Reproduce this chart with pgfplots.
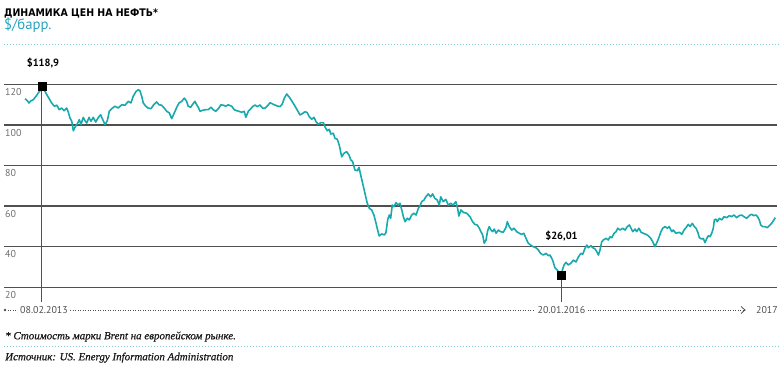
\documentclass[border=0pt]{standalone}
\usepackage{pgfplots}
\usepackage{pgfplotstable}
\pgfplotsset{compat=1.18}
\usepackage{fontspec}
\setmainfont{PT Sans}
\newfontfamily\fnfont{Liberation Serif}[ItalicFeatures={FakeBold=0.5}]
\newfontfamily\titlefont{DejaVu Sans Condensed}
\definecolor{oil}{HTML}{19A9AD}
\definecolor{unitc}{HTML}{2AA3C2}
\definecolor{gridc}{HTML}{505050}
\definecolor{tickc}{HTML}{6E6E6E}
\definecolor{dotc}{HTML}{7CC8D6}
\pgfplotstableread{
year price
2013.010 112.9
2013.023 111.9
2013.032 110.8
2013.044 111.9
2013.057 112.4
2013.072 114.1
2013.085 115.7
2013.099 117.3
2013.106 118.9
2013.123 116.5
2013.142 113.6
2013.161 110.8
2013.176 109.2
2013.190 109.7
2013.204 107.5
2013.218 108.3
2013.231 107.0
2013.246 108.3
2013.255 106.4
2013.265 103.4
2013.275 101.8
2013.284 97.1
2013.293 98.8
2013.306 100.4
2013.318 102.6
2013.327 100.1
2013.340 103.7
2013.350 102.1
2013.360 100.9
2013.373 103.7
2013.384 101.8
2013.397 103.7
2013.411 101.4
2013.426 103.7
2013.439 105.0
2013.451 102.6
2013.464 100.1
2013.477 102.1
2013.488 106.7
2013.502 108.0
2013.520 109.2
2013.539 108.3
2013.558 109.9
2013.577 109.7
2013.596 111.6
2013.611 110.8
2013.624 114.1
2013.640 116.5
2013.653 117.3
2013.662 116.8
2013.672 114.1
2013.681 110.8
2013.695 109.2
2013.709 108.3
2013.725 108.0
2013.738 109.7
2013.757 111.3
2013.770 109.9
2013.785 109.7
2013.800 108.3
2013.814 106.7
2013.829 105.9
2013.842 103.1
2013.857 105.9
2013.871 108.7
2013.884 110.8
2013.899 111.6
2013.914 113.2
2013.927 111.6
2013.936 109.2
2013.950 108.7
2013.959 109.9
2013.974 111.6
2013.984 109.9
2013.993 108.7
2014.003 106.7
2014.018 107.2
2014.035 107.5
2014.050 107.5
2014.065 108.7
2014.078 107.5
2014.092 106.7
2014.107 108.0
2014.122 109.9
2014.135 109.7
2014.149 109.2
2014.163 109.9
2014.183 109.2
2014.197 107.5
2014.211 107.0
2014.224 106.7
2014.239 106.2
2014.254 106.7
2014.263 103.7
2014.277 106.7
2014.291 108.0
2014.302 109.0
2014.315 109.8
2014.328 109.0
2014.343 109.8
2014.359 108.2
2014.372 108.2
2014.385 109.3
2014.400 110.9
2014.415 110.3
2014.428 109.8
2014.442 109.3
2014.457 109.0
2014.470 110.3
2014.481 113.1
2014.495 115.2
2014.510 113.6
2014.523 111.9
2014.538 109.8
2014.555 107.3
2014.570 104.9
2014.586 105.7
2014.599 106.5
2014.612 106.0
2014.623 104.0
2014.637 102.8
2014.650 103.7
2014.661 101.6
2014.674 100.3
2014.688 101.1
2014.703 101.1
2014.712 99.1
2014.725 97.1
2014.737 97.8
2014.745 95.5
2014.759 95.9
2014.769 93.4
2014.782 92.9
2014.793 90.1
2014.807 84.3
2014.820 86.0
2014.835 86.8
2014.848 85.2
2014.859 82.7
2014.869 81.9
2014.882 77.8
2014.896 77.4
2014.905 79.1
2014.915 75.3
2014.926 71.2
2014.939 66.3
2014.952 61.4
2014.964 58.9
2014.977 58.1
2014.990 55.6
2015.002 51.5
2015.011 48.2
2015.020 45.3
2015.034 46.3
2015.049 45.8
2015.058 46.9
2015.068 53.2
2015.077 55.6
2015.085 54.0
2015.094 60.5
2015.104 59.7
2015.115 61.7
2015.128 60.5
2015.138 61.4
2015.148 58.1
2015.157 54.8
2015.167 52.3
2015.179 54.0
2015.191 53.2
2015.204 55.6
2015.217 56.5
2015.229 55.6
2015.242 58.9
2015.251 60.0
2015.261 62.2
2015.274 63.0
2015.285 64.6
2015.298 66.0
2015.312 64.6
2015.323 66.0
2015.336 63.8
2015.349 63.0
2015.361 60.5
2015.369 64.6
2015.383 62.2
2015.398 63.3
2015.412 60.5
2015.425 61.4
2015.440 60.5
2015.455 62.2
2015.465 58.9
2015.472 55.1
2015.484 58.1
2015.497 56.9
2015.516 56.5
2015.535 54.8
2015.550 52.3
2015.563 51.0
2015.576 50.7
2015.588 49.1
2015.597 47.4
2015.607 45.8
2015.616 41.7
2015.626 43.3
2015.635 47.7
2015.644 49.9
2015.654 48.2
2015.664 47.4
2015.673 48.7
2015.683 46.6
2015.696 48.2
2015.709 47.4
2015.724 47.1
2015.739 49.4
2015.747 52.3
2015.758 49.9
2015.772 48.2
2015.785 49.1
2015.800 47.4
2015.815 46.6
2015.828 46.1
2015.841 46.6
2015.853 44.1
2015.866 41.7
2015.880 40.8
2015.894 40.0
2015.910 39.5
2015.923 38.4
2015.936 36.7
2015.951 35.9
2015.967 36.7
2015.980 35.6
2015.989 35.9
2016.004 33.4
2016.017 29.7
2016.030 28.5
2016.041 27.4
2016.052 26.01
2016.063 29.5
2016.069 31.0
2016.080 32.3
2016.093 31.0
2016.107 31.8
2016.122 33.4
2016.137 32.5
2016.150 34.9
2016.164 36.7
2016.175 36.3
2016.188 39.2
2016.198 40.8
2016.207 39.5
2016.221 40.5
2016.232 39.5
2016.245 38.9
2016.255 37.5
2016.264 35.9
2016.273 38.4
2016.283 42.5
2016.292 43.3
2016.307 44.1
2016.320 43.3
2016.330 44.9
2016.340 44.4
2016.353 46.6
2016.364 47.4
2016.374 49.1
2016.387 48.2
2016.402 49.1
2016.415 48.2
2016.428 49.9
2016.440 50.7
2016.449 49.1
2016.459 47.4
2016.472 48.7
2016.481 47.4
2016.494 49.1
2016.506 47.1
2016.519 46.6
2016.534 46.1
2016.547 45.4
2016.561 44.1
2016.572 42.5
2016.585 40.0
2016.598 42.5
2016.609 44.9
2016.619 47.4
2016.629 49.1
2016.642 49.9
2016.655 49.1
2016.666 49.9
2016.680 47.4
2016.689 48.2
2016.704 46.6
2016.723 47.1
2016.737 46.1
2016.750 48.2
2016.761 49.4
2016.774 51.0
2016.784 49.9
2016.797 51.5
2016.808 49.9
2016.818 49.1
2016.828 47.1
2016.837 44.4
2016.850 43.8
2016.859 44.1
2016.869 42.0
2016.879 44.1
2016.888 45.4
2016.897 44.9
2016.907 46.6
2016.916 49.1
2016.922 53.2
2016.931 53.6
2016.939 52.3
2016.950 54.0
2016.964 53.2
2016.977 54.8
2016.992 54.3
2017.007 55.3
2017.020 54.8
2017.033 55.6
2017.048 54.3
2017.063 55.3
2017.077 55.6
2017.090 54.8
2017.105 54.0
2017.120 55.3
2017.133 56.0
2017.146 55.3
2017.158 55.6
2017.167 54.8
2017.177 53.2
2017.185 50.7
2017.196 49.9
2017.209 49.9
2017.222 49.4
2017.234 50.3
2017.247 51.5
2017.260 53.2
2017.268 54.3
}\brent
\begin{document}
\begin{tikzpicture}
\path[use as bounding box] (0bp,0bp) rectangle (780bp,371bp);
\begin{axis}[
  at={(4bp,83.7bp)}, anchor=south west,
  scale only axis, width=773bp, height=203bp,
  xmin=2012.8905, xmax=2017.2775, ymin=20, ymax=120,
  axis line style={draw=none},
  xtick=\empty, ytick={20,40,60,80,100,120},
  major tick length=0pt,
  ymajorgrids, grid style={color=gridc, line width=1.5bp},
  /pgf/number format/assume math mode=true,
  yticklabel style={anchor=north west, inner sep=0pt, xshift=1bp, yshift=-4bp,
    text=tickc, font=\fontsize{10}{12}\selectfont},
  clip=false,
]
\draw[gridc, line width=1bp] (axis cs:2013.106,118.9) -- (axis cs:2013.106,12.76);
\draw[gridc, line width=1bp] (axis cs:2016.052,26.01) -- (axis cs:2016.052,12.76);
\addplot[color=oil, line width=1.6bp, line join=round, mark=none] table[x=year, y=price] {\brent};
\addplot[only marks, mark=square*, mark size=4bp, black] coordinates {(2013.106,118.9) (2016.052,26.01)};
\end{axis}
\begin{scope}[x=1bp, y=1bp]
% header
\node[anchor=base west, inner sep=0, font=\titlefont\bfseries\fontsize{10.5}{13}\selectfont] at (4,354.3) {ДИНАМИКА ЦЕН НА НЕФТЬ*};
\node[anchor=base west, inner sep=0, text=unitc, font=\fontsize{14.8}{16}\selectfont] at (4,341.7) {\$/барр.};
\draw[dotc, line width=1bp, dash pattern=on 1bp off 2bp] (4,326) -- (780,326);
% peak labels
\node[font=\bfseries\fontsize{10.5}{12}\selectfont] at (43,308) {\$118,9};
\node[font=\bfseries\fontsize{10.5}{12}\selectfont] at (561.5,135) {\$26,01};
% date axis
\draw[gridc, line width=0.8bp, dash pattern=on 1bp off 1.5bp] (5,61) -- (745,61);
\fill[gridc] (5,61) circle (1.3bp);
\draw[gridc, line width=0.8bp] (741,64.5) -- (745,61) -- (741,57.5);
\node[fill=white, inner sep=2.5bp, text=gridc, font=\fontsize{10}{12}\selectfont] at (44,61) {08.02.2013};
\node[fill=white, inner sep=2.5bp, text=gridc, font=\fontsize{10}{12}\selectfont] at (561.5,61) {20.01.2016};
\node[anchor=east, inner sep=0pt, text=gridc, font=\fontsize{10}{12}\selectfont] at (778,61) {2017};
% footnotes
\node[anchor=base west, inner sep=0, text=black!90, font=\fnfont\itshape\fontsize{11}{13}\selectfont] at (5,31.7) {* Стоимость марки Brent на европейском рынке.};
\draw[dotc, line width=1bp, dash pattern=on 1bp off 2bp] (4,24.3) -- (780,24.3);
\node[anchor=base west, inner sep=0, text=black!90, font=\fnfont\itshape\fontsize{11}{13}\selectfont] at (5,10.7) {Источник: US. Energy Information Administration};
\end{scope}
\end{tikzpicture}
\end{document}
